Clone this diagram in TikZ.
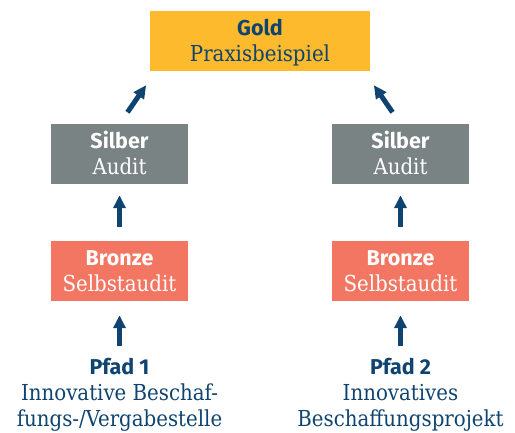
\documentclass[tikz,border=0pt]{standalone}
\usepackage{fontspec}
\setmainfont{DejaVu Serif Condensed}
\newfontfamily\hdfont{Fira Sans}
\usetikzlibrary{arrows.meta}
\definecolor{goldc}{RGB}{252,186,44}
\definecolor{silverc}{RGB}{122,131,132}
\definecolor{bronzec}{RGB}{242,118,98}
\definecolor{bluec}{RGB}{15,68,112}
\tikzset{
  box/.style={minimum height=60pt, inner sep=0pt},
  tx/.style={inner sep=0pt, anchor=base, font=\fontsize{22}{26}\selectfont},
  hdtx/.style={inner sep=0pt, anchor=base, font=\hdfont\bfseries\fontsize{21.5}{26}\selectfont},
  arr/.style={-{Triangle[width=12pt,length=13pt]}, line width=5pt, draw=bluec},
}
\newcommand{\tier}[8]{%
  \node[box, fill=#4, minimum width=#6] (#1) at (#2,#3) {};
  \node[hdtx, text=#5] (#1-a) at ([yshift=5.5pt]#1.center) {#7};
  \node[tx, text=#5] (#1-b) at ([yshift=-21pt]#1.center) {#8};
}
\begin{document}
\begin{tikzpicture}[x=1pt,y=-1pt]
\useasboundingbox (0,0) rectangle (515,433);
\tier{gold}{260}{41}{goldc}{bluec}{220pt}{Gold}{Praxisbeispiel}
\tier{sL}{119.5}{154}{silverc}{white}{137pt}{Silber}{Audit}
\tier{sR}{400.5}{154}{silverc}{white}{137pt}{Silber}{Audit}
\tier{bL}{119.5}{271}{bronzec}{white}{137pt}{Bronze}{Selbstaudit}
\tier{bR}{400.5}{271}{bronzec}{white}{137pt}{Bronze}{Selbstaudit}
\node[hdtx, text=bluec] (pL) at (119.5,374) {Pfad 1};
\node[tx, text=bluec] (pL2) at (119.5,400.5) {Innovative Beschaf-};
\node[tx, text=bluec] (pL3) at (119.5,426) {fungs-/Vergabestelle};
\node[hdtx, text=bluec] (pR) at (400.5,374) {Pfad 2};
\node[tx, text=bluec] (pR2) at (400.5,400.5) {Innovatives};
\node[tx, text=bluec] (pR3) at (400.5,426) {Beschaffungsprojekt};
\draw[arr, shorten <=14pt, shorten >=11pt] (bL.north) -- (sL.south);
\draw[arr, shorten <=14pt, shorten >=11pt] (bR.north) -- (sR.south);
\draw[arr, shorten <=11pt, shorten >=14pt] (pL.north) -- (bL.south);
\draw[arr, shorten <=11pt, shorten >=14pt] (pR.north) -- (bR.south);
\draw[arr, shorten <=14pt, shorten >=17pt] (sL.north) -- ([xshift=6pt]gold.south west);
\draw[arr, shorten <=14pt, shorten >=17pt] (sR.north) -- ([xshift=-6pt]gold.south east);
\end{tikzpicture}
\end{document}
